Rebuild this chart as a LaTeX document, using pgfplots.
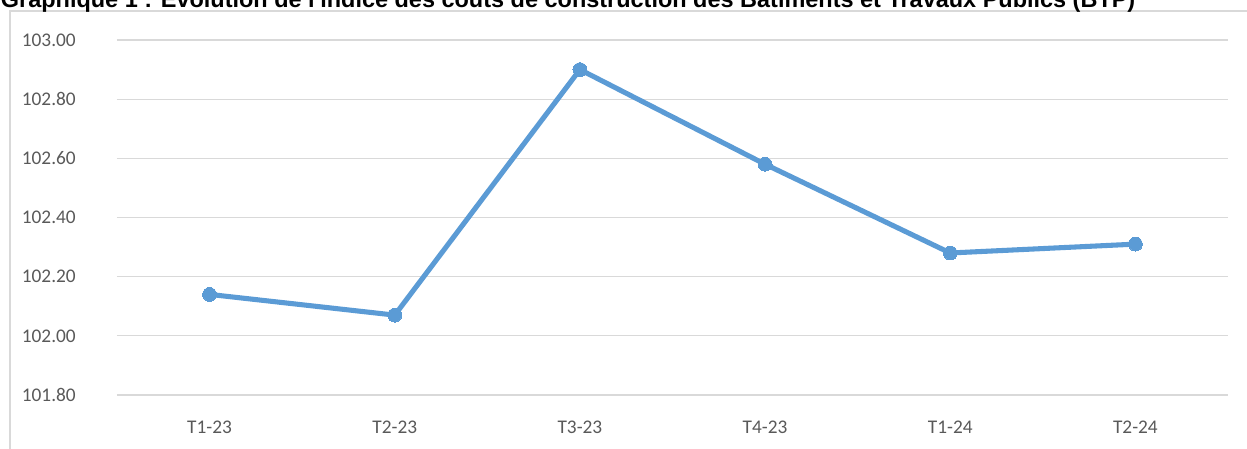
\documentclass[border=0pt]{standalone}
\usepackage{fontspec}
\setmainfont{Carlito}
\newfontfamily\titlefont{Liberation Sans}
\usepackage{pgfplots}
\pgfplotsset{compat=1.18}
\definecolor{serie}{HTML}{5B9BD5}
\definecolor{grille}{HTML}{D9D9D9}
\definecolor{texte}{HTML}{595959}
\begin{document}
\begin{tikzpicture}[x=1pt,y=1pt]
\useasboundingbox (0,0) rectangle (935.25,336.75);
\draw[grille, line width=0.9pt] (7.5,-20) -- (7.5,328.5) -- (960,328.5);
\node[anchor=base west, inner sep=0pt, font=\titlefont\bfseries\fontsize{17.6pt}{20pt}\selectfont] at (0.5,331.2)
  {Graphique 1 : Evolution de l'indice des coûts de construction des Bâtiments et Travaux Publics (BTP)};
\begin{axis}[
  at={(87.75pt,40.5pt)}, anchor=south west,
  scale only axis, width=833.25pt, height=266.25pt,
  xmin=0.5, xmax=6.5, ymin=101.8, ymax=103.0,
  xtick={1,2,3,4,5,6},
  xticklabels={T1-23,T2-23,T3-23,T4-23,T1-24,T2-24},
  ytick={101.8,102.0,102.2,102.4,102.6,102.8,103.0},
  yticklabel={\pgfmathprintnumber[fixed,fixed zerofill,precision=2]{\tick}},
  /pgf/number format/assume math mode=true,
  ymajorgrids, grid style={grille, line width=0.8pt},
  axis line style={draw=none},
  major tick length=0pt,
  tick label style={font=\fontsize{14.5pt}{17pt}\selectfont, text=texte, inner sep=0pt},
  yticklabel style={anchor=east, xshift=-30.75pt},
  xticklabel style={anchor=base, yshift=-29.25pt},
  clip=false,
]
\addplot[serie, line width=3.8pt, mark=*, mark size=5.2pt, mark options={fill=serie, draw=serie, line width=0pt}]
  coordinates {(1,102.14) (2,102.07) (3,102.90) (4,102.58) (5,102.28) (6,102.31)};
\end{axis}
\end{tikzpicture}
\end{document}
